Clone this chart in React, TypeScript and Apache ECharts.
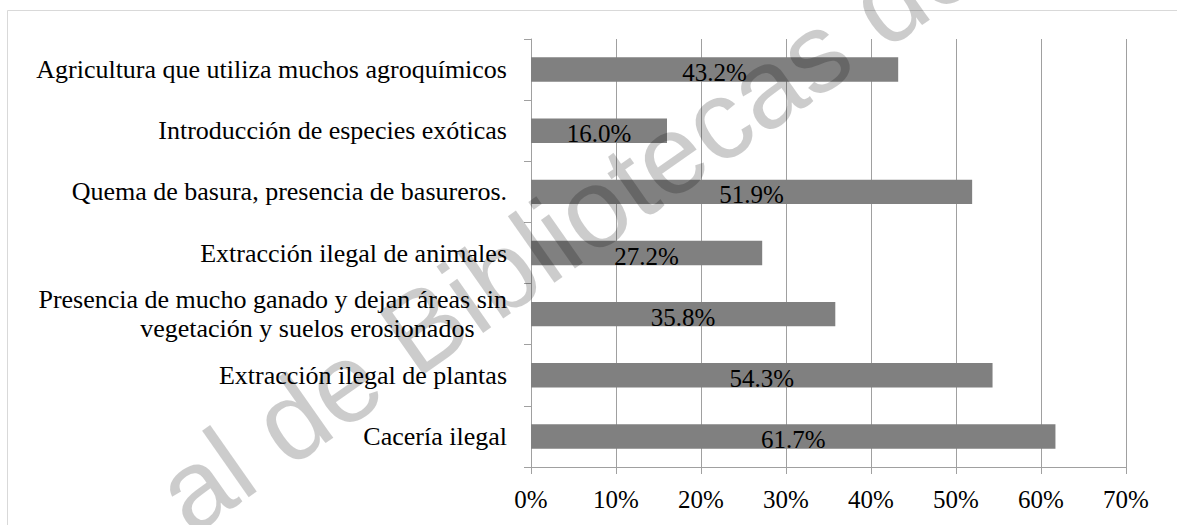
import React, { useEffect, useRef } from "react";
import * as echarts from "echarts";

const categories = [
  "Cacería ilegal",
  "Extracción ilegal de plantas",
  "Presencia de mucho ganado y dejan áreas sin\nvegetación y suelos erosionados",
  "Extracción ilegal de animales",
  "Quema de basura, presencia de basureros.",
  "Introducción de especies exóticas",
  "Agricultura que utiliza muchos agroquímicos",
];
const values = [61.7, 54.3, 35.8, 27.2, 51.9, 16.0, 43.2];
const xTicks = { min: 0, max: 70, interval: 10 };
const watermark = "al de Bibliotecas de";

export default function App() {
  const ref = useRef<HTMLDivElement>(null);
  useEffect(() => {
    if (!ref.current) return;
    const chart = echarts.init(ref.current, undefined, { renderer: "svg" });
    const font = "Liberation Serif";
    const fs = 26;
    const option = {
      animation: false,
      backgroundColor: "#ffffff",
      textStyle: { fontFamily: font },
      grid: { left: 531, right: 51, top: 39, bottom: 58, containLabel: false },
      xAxis: {
        type: "value",
        min: xTicks.min,
        max: xTicks.max,
        interval: xTicks.interval,
        axisLine: { show: true, lineStyle: { color: "#a0a0a0", width: 1 } },
        axisTick: { show: true, length: 7, lineStyle: { color: "#a0a0a0" } },
        splitLine: { show: true, lineStyle: { color: "#a0a0a0", width: 1 } },
        axisLabel: {
          formatter: "{value}%",
          color: "#000",
          fontFamily: font,
          fontSize: 25,
          margin: 20,
        },
      },
      yAxis: {
        type: "category",
        data: categories,
        axisLine: { show: true, lineStyle: { color: "#a0a0a0", width: 1 } },
        axisTick: { show: true, length: 7, lineStyle: { color: "#a0a0a0" } },
        splitLine: { show: false },
        axisLabel: {
          color: "#000",
          fontFamily: font,
          fontSize: fs,
          margin: 24,
          lineHeight: 29,
          formatter: (v: string) => {
            if (!v.includes("\n")) return v;
            const [a, b] = v.split("\n");
            return a + "\n" + b + "\u00a0\u00a0\u00a0\u00a0\u00a0";
          },
        },
      },
      series: [
        {
          type: "bar",
          data: values,
          barCategoryGap: "60%",
          itemStyle: { color: "#808080" },
          label: {
            show: true,
            position: "inside",
            offset: [0, 3],
            formatter: (p: any) => p.value.toFixed(1) + "%",
            color: "#000",
            fontFamily: font,
            fontSize: 25,
          },
        },
      ],
      graphic: [
        {
          type: "rect",
          shape: { x: 7.5, y: 10.5, width: 1300, height: 700 },
          style: { fill: "none", stroke: "#d9d9d9", lineWidth: 1 },
          silent: true,
          z: -1,
        },
        {
          type: "text",
          x: 567,
          y: 227,
          rotation: (35 * Math.PI) / 180,
          style: {
            text: watermark,
            fill: "rgba(0,0,0,0.2)",
            fontFamily: "Liberation Sans",
            fontSize: 112,
            textAlign: "center",
            textVerticalAlign: "middle",
          },
          silent: true,
          z: 100,
        },
      ],
    };
    chart.setOption(option as any);
    return () => chart.dispose();
  }, []);
  return (
    <div
      ref={ref}
      style={{ position: "fixed", left: 0, top: 0, width: 1177, height: 525 }}
    />
  );
}
